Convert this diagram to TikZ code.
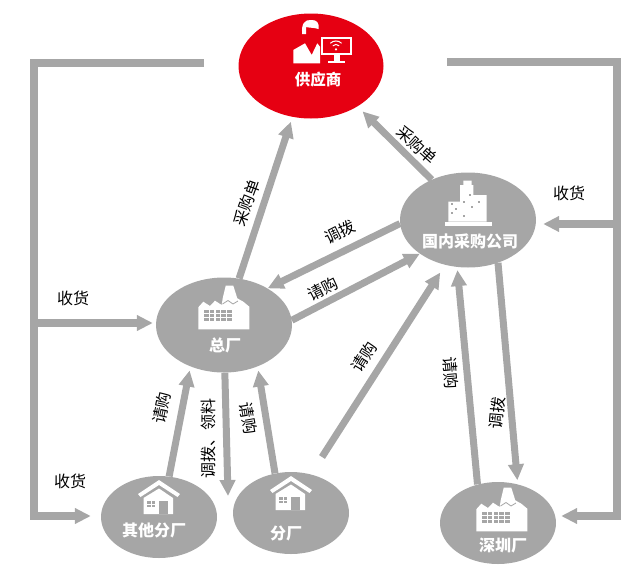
\documentclass[tikz,border=0pt]{standalone}
\usepackage{fontspec}
\setmainfont{Noto Sans CJK SC}
\usetikzlibrary{shapes.geometric,arrows.meta}

\definecolor{flowgray}{HTML}{A6A6A6}
\definecolor{supplierred}{HTML}{E60012}

\tikzset{
  site/.style={ellipse,fill=flowgray,inner sep=0pt,minimum width=116pt,minimum height=82pt},
  bigsite/.style={site,minimum width=136pt,minimum height=95pt},
  sitename/.style={text=white,font=\fontsize{16}{16}\selectfont\bfseries,inner sep=0pt},
  flowlabel/.style={font=\fontsize{16}{16}\selectfont,inner sep=0pt},
  flow/.style={draw=flowgray,line width=7pt,-{Triangle[length=16pt,width=15pt]}},
  frameflow/.style={draw=flowgray,line width=7.5pt,-{Triangle[length=16pt,width=15pt]}},
  frameline/.style={draw=flowgray,line width=7.5pt,line cap=butt},
  % white icons, origin at the middle of the icon
  factoryicon/.pic={
    \fill[white] (-25.7,21.3) -- (-25.7,-0.7) -- (-20.7,-6.3) -- (-14,-2) -- (-9,-7.3) -- (-2.3,-3)
      -- (-1.3,-9.7) -- (1.7,-22.3) -- (9.3,-22.3) -- (13.3,-9.7) -- (19.3,-6.3) -- (25.3,-1.3) -- (25.3,21.3) -- cycle;
    \draw[flowgray,line width=.8pt] (-1.5,-4) -- (4,-7.5) -- (9,-4) -- (14,-7);
    \foreach \wx in {0,...,4}{\foreach \wy in {0,1,2}{
      \fill[flowgray] (-20+\wx*5.8,1.5+\wy*4) rectangle ++(4.6,3.1);
    }}
  },
  houseicon/.pic={
    \fill[white] (0,-17) -- (21,-3) -- (18.5,0) -- (0,-12) -- (-18.5,0) -- (-21,-3) -- cycle;
    \fill[white] (0,-8.5) -- (14,1) -- (14,17) -- (-15.5,17) -- (-15.5,1) -- cycle;
    \fill[flowgray] (0.3,3.7) rectangle (9.3,17);
    \fill[flowgray] (-11.7,4) rectangle (-4,10.3);
    \draw[white,line width=.6pt] (-7.8,4) -- (-7.8,10.3) (-11.7,7.2) -- (-4,7.2);
  },
}

\begin{document}
\begin{tikzpicture}[x=1pt,y=-1pt]
  \useasboundingbox (0,0) rectangle (641,576);

  % the five sites and the supplier
  \node[bigsite,fill=supplierred,minimum width=145pt,minimum height=105pt] (supplier) at (311,66) {};
  \node[bigsite] (purchasing) at (468,220) {};
  \node[bigsite] (mainplant) at (224,325) {};
  \node[site] (otherplant) at (159,517) {};
  \node[site] (branchplant) at (291,513) {};
  \node[site] (shenzhen) at (498,523) {};

  % free ends
  \coordinate (branchout) at (322,457);
  \coordinate (pickuptip) at (228,496);
  \coordinate (leftstart) at (204,63);
  \coordinate (leftcorner) at (34,63);
  \coordinate (leftjoin) at (34,323);
  \coordinate (leftfoot) at (34,516);
  \coordinate (leftend) at (34,520);
  \coordinate (rightstart) at (447,62);
  \coordinate (rightcorner) at (617,62);
  \coordinate (rightjoin) at (617,224);
  \coordinate (rightfoot) at (621,516);
  \coordinate (rightend) at (617,516);

  % frame lines
  \draw[frameline] (leftstart) -- (leftcorner) -- (leftend);
  \draw[frameline] (rightstart) -- (rightcorner) -- (rightend);
  \draw[frameflow,shorten >=3pt] (leftjoin) -- (leftjoin -| mainplant.west);
  \draw[frameflow,shorten >=10pt] (leftfoot) -- (leftfoot -| otherplant.west);
  \draw[frameflow,shorten >=7pt] (rightjoin) -- (rightjoin -| purchasing.east);
  \draw[frameflow,shorten >=5pt] (rightfoot) -- (rightfoot -| shenzhen.east);

  % flows between the sites
  \draw[flow,shorten >=5pt] (mainplant.72) -- (supplier.250);
  \draw[flow,shorten >=7pt] (purchasing.132) -- (supplier.-41);
  \draw[flow] (purchasing.183) -- (mainplant.40);
  \draw[flow] (mainplant.4) -- (purchasing.215);
  \draw[flow,shorten >=9pt] (branchout) -- (purchasing.243);
  \draw[flow,shorten >=3pt] (shenzhen.118) -- (purchasing.257);
  \draw[flow,shorten >=4pt] (purchasing.-55) -- (shenzhen.63);
  \draw[flow,shorten >=4pt] (otherplant.76) -- (mainplant.231);
  \draw[flow] (mainplant.-89) -- (pickuptip);
  \draw[flow,shorten >=4pt] (branchplant.112) -- (mainplant.-51);

  % icons
  \begin{scope}[shift={(311,66)}]
    \fill[white] (-8.8,-32) .. controls (-10,-42) and (-6,-46.5) .. (-0.5,-46) .. controls (6,-46.5) and (8.5,-43) .. (7.5,-37)
      .. controls (3,-38.5) and (-1,-38) .. (-5,-39) -- (-5,-32) -- cycle;
    \fill[white] (-17.7,-2.7) -- (-17.7,-16) -- (-6,-22.7) -- (0.7,-11) -- (6.3,-22.7) -- (9,-19.3) -- (9,-2.7) -- cycle;
    \fill[white] (9.7,-29.3) rectangle (40.7,-11);
    \fill[supplierred] (11.7,-27.3) rectangle (38.7,-13);
    \fill[white] (23,-11) rectangle (29,-4.3);
    \fill[white] (17.3,-4.7) rectangle (34,-2.7);
    \draw[white,line width=1pt] (19.3,-22.7) arc[start angle=-135,end angle=-45,radius=8];
    \draw[white,line width=1pt] (21.8,-20.2) arc[start angle=-135,end angle=-45,radius=4.5];
    \fill[white] (25,-16.7) circle (1.2);
  \end{scope}
  \begin{scope}[shift={(468,220)}]
    \fill[white] (-19.7,1.7) -- (-19.7,-18.3) -- (-8,-18.3) -- (-8,-35) -- (-4.7,-35) -- (-4.7,-39.3) -- (3.7,-39.3)
      -- (3.7,-35) -- (5.3,-35) -- (5.3,-25) -- (18.7,-25) -- (18.7,1.7) -- cycle;
    \fill[white] (-23,1.7) rectangle (23.7,5.7);
    \foreach \wx/\wy in {-16/-16,-12/-11,-16/-7,-4/-18,2/-25,4/-13,11/-18,-4/-4}{
      \fill[flowgray] (\wx-1.2,\wy-1.2) rectangle ++(2.6,2.6);
    }
  \end{scope}
  \pic at (224,308) {factoryicon};
  \pic at (502,510) {factoryicon};
  \pic at (159,497) {houseicon};
  \pic at (291,493) {houseicon};

  % site names
  \node[sitename,font=\fontsize{15.5}{15.5}\selectfont\bfseries] (suppliername) at (318,80) {供应商};
  \node[sitename] (purchasingname) at (470,241) {国内采购公司};
  \node[sitename] (mainplantname) at (225,345) {总厂};
  \node[sitename] (otherplantname) at (154,530) {其他分厂};
  \node[sitename] (branchplantname) at (286,533) {分厂};
  \node[sitename] (shenzhenname) at (503,545) {深圳厂};

  % flow labels
  \node[flowlabel,rotate=70] (lblorderleft) at (247,203) {采购单};
  \node[flowlabel,rotate=-42] (lblorderright) at (417,145) {采购单};
  \node[flowlabel,rotate=27] (lbltransferup) at (340,232) {调拨};
  \node[flowlabel,rotate=27] (lblrequestup) at (323,289) {请购};
  \node[flowlabel,rotate=58] (lblrequestbranch) at (364,357) {请购};
  \node[flowlabel,rotate=-85] (lblrequestsz) at (451,373) {请购};
  \node[flowlabel,rotate=85] (lbltransfersz) at (497,413) {调拨};
  \node[flowlabel,rotate=78] (lblrequestother) at (162,408) {请购};
  \node[flowlabel,rotate=90] (lblpickup) at (208,438) {调拨、领料};
  \node[flowlabel,rotate=-80] (lblrequestmain) at (248,418) {请购};
  \node[flowlabel] (lblreceiveright) at (569,193) {收货};
  \node[flowlabel] (lblreceiveleft) at (73,298) {收货};
  \node[flowlabel] (lblreceivefoot) at (70,481) {收货};
\end{tikzpicture}
\end{document}
